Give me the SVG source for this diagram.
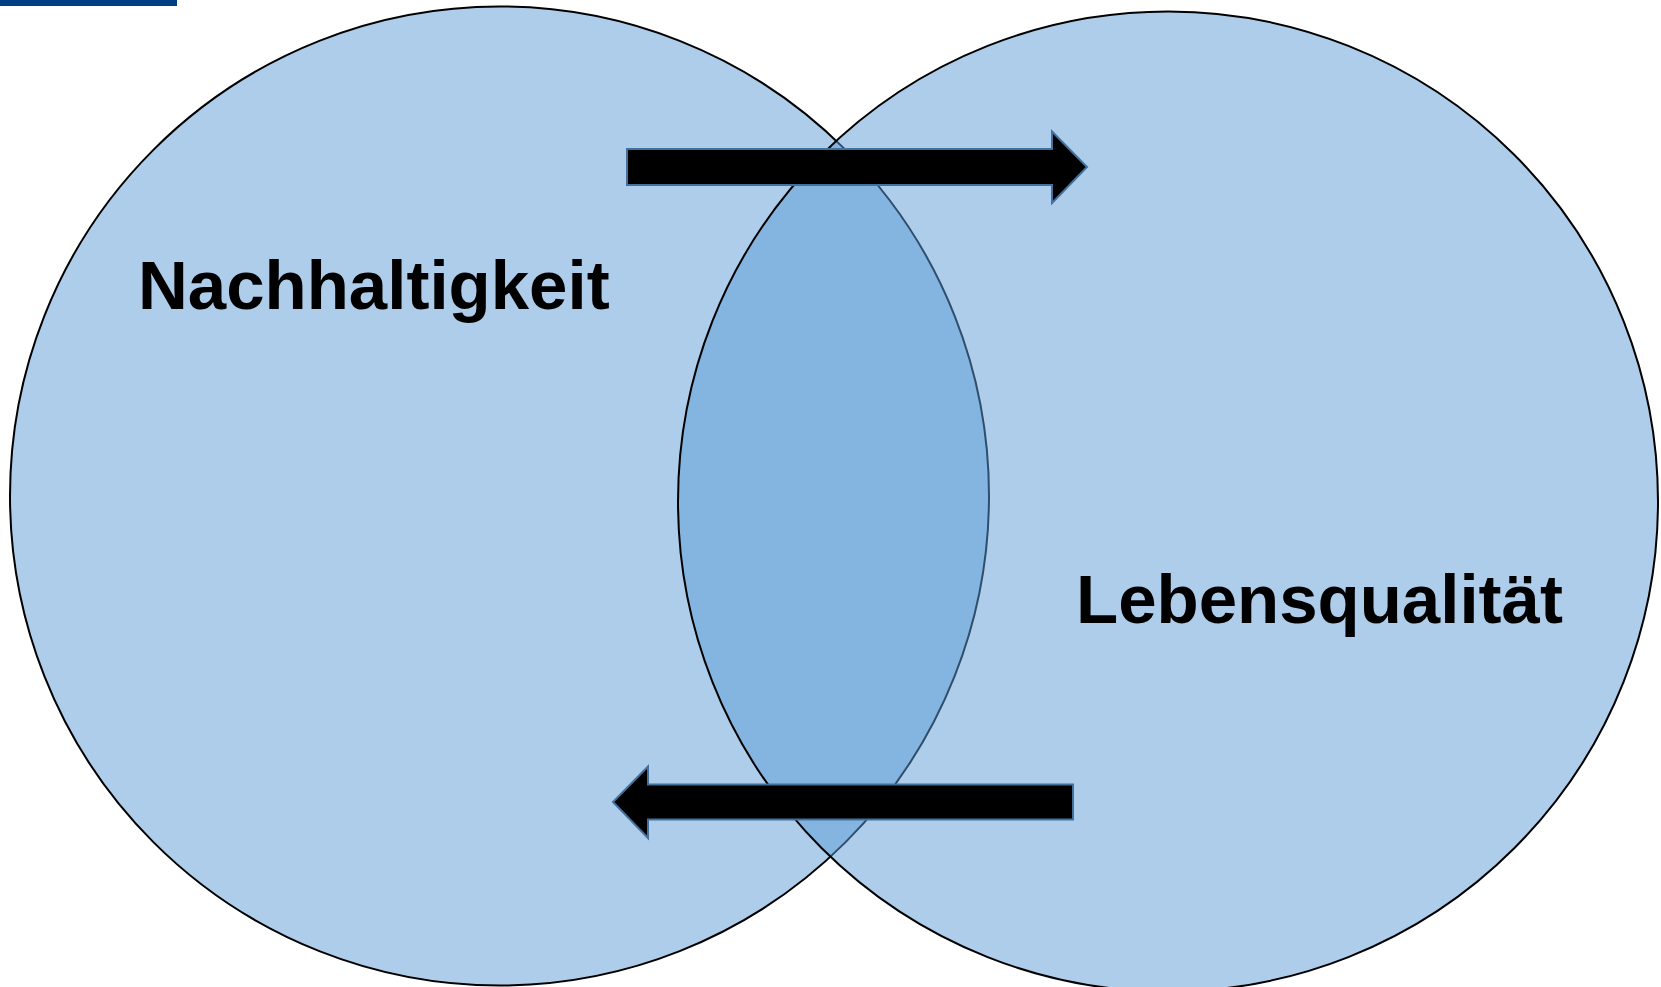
<svg xmlns="http://www.w3.org/2000/svg" width="1661" height="987" viewBox="0 0 1661 987">
  <style>
    .set { fill: #5b9bd5; fill-opacity: 0.5; stroke: #000000; stroke-width: 2; }
    .label { font-family: "Liberation Sans", Arial, sans-serif; font-weight: bold; font-size: 69px; fill: #000000; }
    .arrow { fill: #000000; stroke: #41719c; stroke-width: 2; stroke-linejoin: miter; }
  </style>
  <rect width="1661" height="987" fill="#ffffff"/>
  <!-- header accent bar -->
  <rect x="0" y="0" width="177" height="6" fill="#003e84"/>

  <!-- sets: translucent fills, overlap darkens -->
  <g id="node-nachhaltigkeit">
    <circle class="set" cx="499.5" cy="496" r="489.5"/>
  </g>
  <g id="node-lebensqualitaet">
    <circle class="set" cx="1168" cy="501.5" r="490"/>
  </g>

  <!-- mutual influence arrows -->
  <g id="connectors">
    <polygon class="arrow" points="627,149 1052,149 1052,131.5 1087,167 1052,203 1052,185 627,185"/>
    <polygon class="arrow" points="1073,784.5 648,784.5 648,766.5 613,802 648,838 648,819.5 1073,819.5"/>
  </g>

  <g id="labels">
    <text class="label" x="138" y="309">Nachhaltigkeit</text>
    <text class="label" x="1076" y="622.5">Lebensqualität</text>
  </g>
</svg>
